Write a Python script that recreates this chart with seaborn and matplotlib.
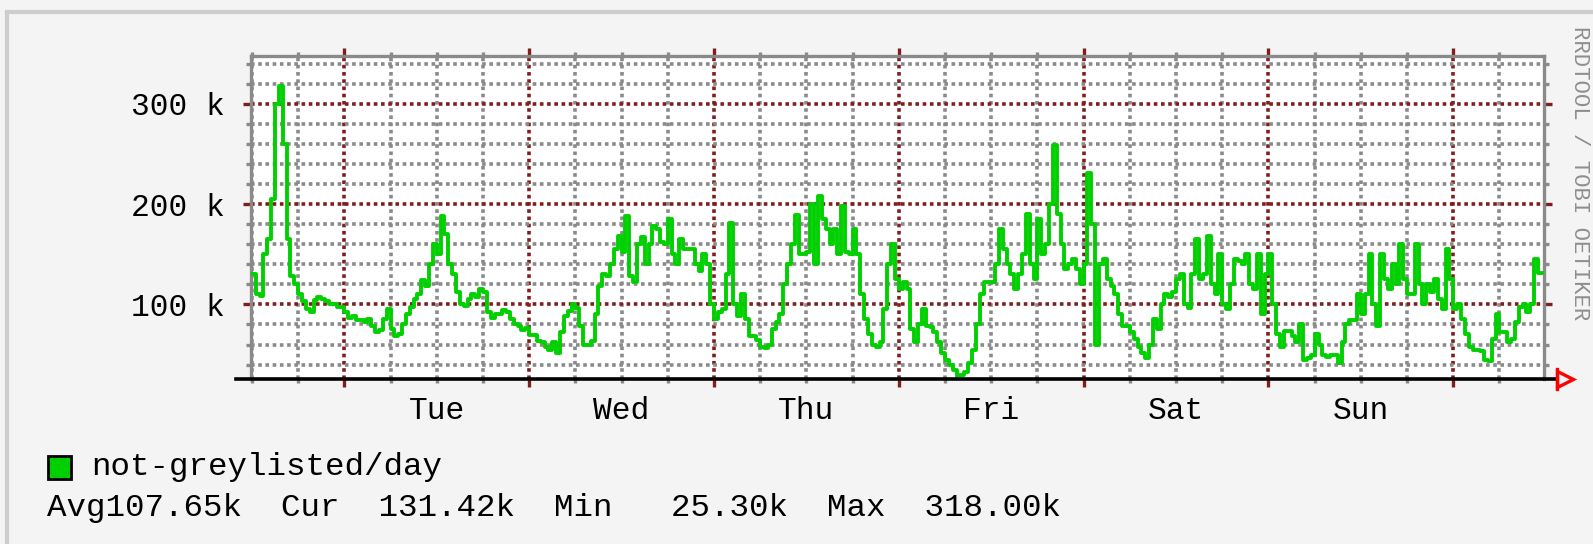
import numpy as np
import matplotlib
matplotlib.use("Agg")
import matplotlib.pyplot as plt
import matplotlib.transforms as mtransforms
from matplotlib.ticker import MultipleLocator, FixedLocator
from matplotlib.lines import Line2D
from matplotlib.patches import Rectangle
import seaborn as sns

# ---------------- data ----------------
# half-hourly samples, hours counted from Tuesday 00:00
start_hour = -12.0
step_hours = 0.5
values_k = [
    # Mon afternoon -> Tue
    130, 110, 108, 150, 165, 205, 300, 318, 260, 165,
    128, 120, 110, 103, 95, 92, 104, 107, 105, 103,
    100, 100, 97, 97, 92, 86, 88, 84, 84, 82,
    85, 78, 72, 74, 85, 95, 75, 68, 70, 80,
    90, 97, 105, 110, 124, 118, 140, 160, 150, 188,
    170, 140, 130, 112, 100, 98,
    # Tue evening -> Wed
    105, 110, 107, 115, 112, 92, 86, 90, 90, 94,
    92, 85, 80, 78, 74, 76, 69, 69, 63, 62,
    58, 55, 62, 52, 72, 88, 93, 100, 96, 78,
    60, 60, 63, 90, 118, 130, 128, 140, 155, 168,
    152, 188, 128, 122, 160, 167, 140, 160, 178, 175,
    162, 160, 185, 150, 140, 165, 155,
    # Wed evening -> Thu
    155, 155, 140, 133, 150, 140, 100, 85, 92, 95,
    130, 181, 100, 88, 110, 85, 68, 68, 64, 58,
    57, 60, 75, 82, 90, 120, 140, 160, 189, 150,
    150, 152, 200, 140, 208, 185, 175, 160, 175, 150,
    198, 152, 150, 175, 150, 110, 85, 70, 60, 58,
    62, 95, 140, 160, 125,
    # Fri
    115, 122, 115, 75, 62, 80, 95, 78, 77, 72,
    62, 52, 45, 40, 35, 25.3, 30, 33, 42, 55,
    80, 110, 122, 122, 122, 140, 175, 155, 140, 130,
    115, 130, 150, 190, 140, 125, 185, 150, 160, 200,
    259, 190, 160, 135, 140, 145, 135, 120, 140, 231,
    180, 60, 140, 145, 125, 118,
    # Sat
    110, 90, 78, 78, 72, 65, 58, 52, 47, 60,
    85, 75, 100, 110, 107, 112, 125, 130, 100, 96,
    130, 165, 125, 130, 168, 120, 110, 150, 100, 95,
    120, 145, 143, 140, 150, 120, 115, 150, 90, 130,
    150, 100, 70, 58, 73, 73, 68, 62, 80, 45,
    47, 50, 70, 60, 50, 48,
    # Sun -> Mon
    50, 50, 42, 62, 80, 84, 84, 110, 90, 110,
    150, 100, 78, 150, 125, 115, 140, 120, 160, 125,
    110, 110, 160, 120, 100, 120, 112, 125, 105, 95,
    155, 125, 95, 100, 85, 70, 58, 55, 55, 54,
    45, 44, 65, 90, 72, 72, 62, 65, 82, 97,
    100, 92, 100, 145, 131, 131.42,
]
day_names = ["Tue", "Wed", "Thu", "Fri", "Sat", "Sun"]
y_major_ticks = [100, 200, 300]
y_tick_labels = ["100 k", "200 k", "300 k"]
legend_label = "not-greylisted/day"
stats_text = "Avg107.65k  Cur  131.42k  Min   25.30k  Max  318.00k"
credit_text = "RRDTOOL / TOBI OETIKER"

hours = start_hour + step_hours * np.arange(len(values_k))

# ---------------- style ----------------
BG = "#f4f4f4"
GREEN = "#00d000"
GRID_GRAY = "#8a8a8a"
GRID_RED = "#801e1e"
FONT = ["Liberation Mono", "DejaVu Sans Mono"]
plt.rcParams["font.family"] = FONT

W, H = 1593, 544
def fx(px):
    return px / W
def fy(py):
    return 1 - py / H

fig = plt.figure(figsize=(W / 100, H / 100), dpi=100, facecolor=BG)

# outer frame lines
fig.add_artist(Line2D([fx(7), fx(7)], [fy(12), fy(544)], color="#cdcdcd", lw=3))
fig.add_artist(Line2D([fx(7), fx(1593)], [fy(12), fy(12)], color="#cdcdcd", lw=3))

left, right, top, bottom = 251, 1544, 55.7, 379.3
ax = fig.add_axes([fx(left), fy(bottom), fx(right - left), (bottom - top) / H])
ax.set_facecolor("white")

sns.lineplot(x=hours, y=values_k, ax=ax, color=GREEN, linewidth=2.8,
             drawstyle="steps-post", legend=False, zorder=3)

ax.set_xlim(-12.12, 155.78)
ax.set_ylim(25.3, 348)
ax.set_xlabel("")
ax.set_ylabel("")

ax.xaxis.set_major_locator(MultipleLocator(24))
ax.xaxis.set_minor_locator(MultipleLocator(6))
ax.yaxis.set_major_locator(FixedLocator(y_major_ticks))
ax.set_yticklabels(y_tick_labels)
ax.yaxis.set_minor_locator(MultipleLocator(20))

ax.set_axisbelow(True)
ax.grid(which="minor", color=GRID_GRAY, linestyle=(0, (1, 1)), linewidth=2.6)
ax.grid(which="major", color=GRID_RED, linestyle=(0, (1, 1)), linewidth=2.6)

ax.tick_params(axis="y", which="major", direction="out", length=5.8, width=2.4,
               color=GRID_RED, left=True, right=True, pad=13, labelsize=22.5,
               labelcolor="black")
ax.tick_params(axis="y", which="minor", direction="out", length=3.3, width=2.4,
               color=GRID_GRAY, left=True, right=True)
ax.tick_params(axis="x", which="major", direction="out", length=5.8, width=2.4,
               color=GRID_RED, bottom=True, top=True, labelbottom=False)
ax.tick_params(axis="x", which="minor", direction="out", length=3.0, width=2.4,
               color=GRID_GRAY, bottom=True, top=True, labelbottom=False)

for side in ["left", "right", "top"]:
    ax.spines[side].set_color(GRID_GRAY)
    ax.spines[side].set_linewidth(2.4)
ax.spines["bottom"].set_visible(False)

# x axis line (extends beyond the plot) and red arrow
fig.add_artist(Line2D([fx(236), fx(1556)], [fy(bottom), fy(bottom)], color="black", lw=2.6))
fig.add_artist(Line2D([fx(1557), fx(1557)], [fy(369), fy(389)], color="red", lw=2.4))
fig.add_artist(Line2D([fx(1565)], [fy(bottom)], marker=">", markersize=11,
                      markerfacecolor="none", markeredgecolor="red", mew=2.4))

# day labels at noon
trans = mtransforms.blended_transform_factory(ax.transData, ax.transAxes)
for i, name in enumerate(day_names):
    ax.text(12 + 24 * i, (bottom - 419) / (bottom - top), name, transform=trans,
            ha="center", va="baseline", fontsize=22.5, color="black")

# legend
fig.add_artist(Rectangle((fx(48), fy(479)), fx(23), 23 / H, facecolor=GREEN,
                         edgecolor="black", lw=2))
fig.text(fx(91), fy(475), legend_label, fontsize=23.4, ha="left", va="baseline")
fig.text(fx(47), fy(516), stats_text, fontsize=23.4, ha="left", va="baseline")

# credit
fig.text(fx(1579), fy(26), credit_text, rotation=270, ha="center", va="top",
         fontsize=16, color="#8e8e8e")

fig.savefig("out.png", dpi=100, facecolor=BG)
